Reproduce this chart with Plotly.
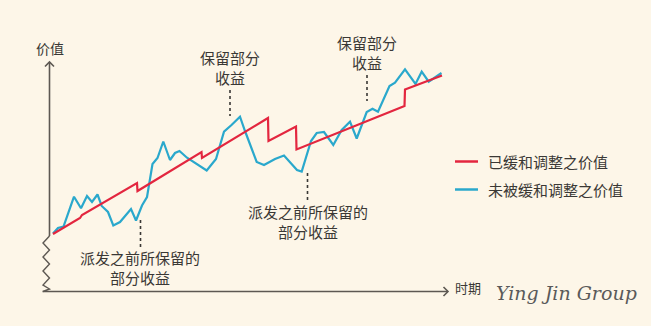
import plotly.graph_objects as go

W, H = 651, 326

# ---- data (x = time position, y = value) ----
adj_x = [53, 80, 82, 137, 137.5, 201.5, 202, 268, 268.5, 296, 296.5, 404.5, 405, 442]
adj_y = [92, 108, 111, 143, 135, 174, 168, 208, 185, 199.5, 176.5, 220, 236.5, 250.5]

raw_x = [53, 58, 63.5, 74, 81, 87, 92, 97.5, 101.7, 108, 113.3, 120, 131, 136, 142, 147,
         152.5, 157.5, 163.3, 170, 175, 179.5, 187, 197, 206.7, 216, 224, 231.5, 240, 245,
         256.7, 264, 275, 284, 297, 301.7, 311, 316.7, 324, 333.3, 341.7, 350, 356.7, 366.7,
         372.5, 378, 389.5, 395, 405, 415.5, 421.7, 428.7, 441.5]
raw_y = [92.5, 98, 99.5, 129.3, 117.7, 130, 124, 131.5, 120, 114, 100.5, 104, 117, 105.5,
         120.5, 129, 162, 168, 184.5, 166, 173, 175, 168.3, 162, 155.5, 167, 194.3, 201,
         209.3, 195, 164, 161, 167, 170.5, 156, 154.5, 185, 193, 194, 181, 196, 204.3, 187.5,
         214, 217.3, 214.3, 240, 243.3, 256.7, 242, 254.3, 244.3, 253]

series_names = ["已缓和调整之价值", "未被缓和调整之价值"]
series_colors = ["#e3263f", "#2aa8cc"]

BG = "#fdf6e8"
TXT = "#3a3835"
AX = "#5d5852"
FONT = "Noto Sans CJK SC"


def Y(py):
    return H - py


fig = go.Figure()
fig.add_trace(go.Scatter(x=raw_x, y=raw_y, mode="lines", name=series_names[1],
                         line=dict(color=series_colors[1], width=2.2), showlegend=False))
fig.add_trace(go.Scatter(x=adj_x, y=adj_y, mode="lines", name=series_names[0],
                         line=dict(color=series_colors[0], width=2.2), showlegend=False))

shapes = []
# y axis line
shapes.append(dict(type="line", x0=49.5, x1=49.5, y0=Y(62), y1=Y(236),
                   line=dict(color=AX, width=1.6)))
# zigzag
zz = [(49.5, 236), (43, 243), (49.5, 250), (43, 257), (49.5, 264), (43, 271),
      (49.5, 278), (43, 285), (49.5, 289), (43, 291.5)]
path = "M " + " L ".join(f"{x},{Y(y)}" for x, y in zz)
shapes.append(dict(type="path", path=path, line=dict(color=AX, width=1.4)))
# x axis line
shapes.append(dict(type="line", x0=42.5, x1=448, y0=Y(291.5), y1=Y(291.5),
                   line=dict(color=AX, width=1.6)))
# arrowheads
shapes.append(dict(type="path", path=f"M 45,{Y(66.5)} L 49.5,{Y(62)} L 54,{Y(66.5)}",
                   line=dict(color=AX, width=1.6)))
shapes.append(dict(type="path", path=f"M 443.5,{Y(287)} L 448,{Y(291.5)} L 443.5,{Y(296)}",
                   line=dict(color=AX, width=1.6)))
# dotted leader lines
for x, ya, yb in [(230, 90, 116), (367, 75, 101), (140.5, 220, 247), (307.5, 173, 200)]:
    shapes.append(dict(type="line", x0=x, x1=x, y0=Y(ya), y1=Y(yb),
                       line=dict(color=TXT, width=1.6, dash="dot")))
# legend swatches
shapes.append(dict(type="line", x0=455, x1=478, y0=Y(161.5), y1=Y(161.5),
                   line=dict(color=series_colors[0], width=2.5)))
shapes.append(dict(type="line", x0=455, x1=478, y0=Y(189.5), y1=Y(189.5),
                   line=dict(color=series_colors[1], width=2.5)))

ann = []


def text(x, py, s, size=15, xanchor="center", **kw):
    ann.append(dict(x=x, y=Y(py), text=s, showarrow=False, xanchor=xanchor, yanchor="middle",
                    font=dict(family=FONT, size=size, color=TXT), **kw))


text(50, 48, "价值", size=14)
text(468, 287, "时期", size=13)
text(230, 67.5, "保留部分<br>收益")
text(367, 52, "保留部分<br>收益")
text(140, 267.5, "派发之前所保留的<br>部分收益")
text(308, 221, "派发之前所保留的<br>部分收益")
text(486, 161.5, series_names[0], xanchor="left")
text(486, 189.5, series_names[1], xanchor="left")
ann.append(dict(x=566, y=Y(293), text="Ying Jin Group", showarrow=False,
                xanchor="center", yanchor="middle",
                font=dict(family="DejaVu Serif", size=19, color="#5a5a5a", style="italic")))

fig.update_layout(
    width=W, height=H, margin=dict(l=0, r=0, t=0, b=0),
    paper_bgcolor=BG, plot_bgcolor=BG,
    xaxis=dict(range=[0, W], visible=False, fixedrange=True),
    yaxis=dict(range=[0, H], visible=False, fixedrange=True),
    shapes=shapes, annotations=ann, showlegend=False,
)
fig.write_html("out.html")
